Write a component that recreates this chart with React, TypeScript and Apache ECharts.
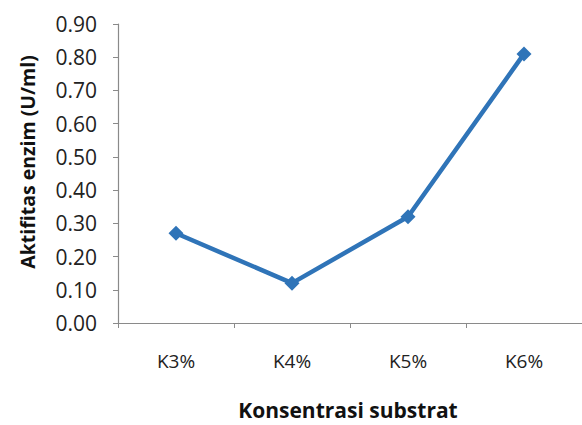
import React, { useEffect, useRef } from "react";
import * as echarts from "echarts";

// Enzyme activity at each substrate concentration
const categories = ["K3%", "K4%", "K5%", "K6%"];
const activity = [0.27, 0.12, 0.32, 0.81];
const yTicks = { min: 0, max: 0.9, interval: 0.1 };

const FONT = "'Open Sans', 'Noto Sans', sans-serif";
const LINE_COLOR = "#2f74b8";

export default function App() {
  const ref = useRef<HTMLDivElement>(null);

  useEffect(() => {
    if (!ref.current) return;
    const chart = echarts.init(ref.current, null, { renderer: "svg" });
    chart.setOption({
      animation: false,
      backgroundColor: "#ffffff",
      grid: { left: 118, top: 24, width: 470, height: 299 },
      xAxis: {
        type: "category",
        data: categories,
        boundaryGap: true,
        axisLine: { lineStyle: { color: "#8a8a8a", width: 1.2 } },
        axisTick: { show: true, length: 5, inside: false, lineStyle: { color: "#8a8a8a" } },
        axisLabel: { color: "#222", fontSize: 19, fontFamily: FONT, margin: 28 },
        splitLine: { show: false },
      },
      yAxis: {
        type: "value",
        min: yTicks.min,
        max: yTicks.max,
        interval: yTicks.interval,
        axisLine: { show: true, lineStyle: { color: "#8a8a8a", width: 1.2 } },
        axisTick: { show: true, length: 5, lineStyle: { color: "#8a8a8a" } },
        axisLabel: {
          color: "#222",
          fontSize: 21,
          fontFamily: FONT,
          margin: 21,
          formatter: (v: number) => v.toFixed(2),
        },
        splitLine: { show: false },
      },
      graphic: [
        {
          type: "text",
          x: 27,
          y: 162,
          rotation: Math.PI / 2,
          style: {
            text: "Aktifitas enzim (U/ml)",
            fontSize: 19.5,
            fontWeight: "bold",
            fontFamily: FONT,
            fill: "#111",
            textAlign: "center",
            textVerticalAlign: "middle",
          },
        },
        {
          type: "text",
          x: 348,
          y: 410,
          style: {
            text: "Konsentrasi substrat",
            fontSize: 21,
            fontWeight: "bold",
            fontFamily: FONT,
            fill: "#111",
            textAlign: "center",
            textVerticalAlign: "middle",
          },
        },
      ],
      series: [
        {
          type: "line",
          data: activity,
          symbol: "diamond",
          symbolSize: 15,
          lineStyle: { color: LINE_COLOR, width: 4.5 },
          itemStyle: { color: LINE_COLOR },
        },
      ],
    });
    return () => chart.dispose();
  }, []);

  return (
    <div
      ref={ref}
      style={{ position: "fixed", left: 0, top: 0, width: 582, height: 425 }}
    />
  );
}
